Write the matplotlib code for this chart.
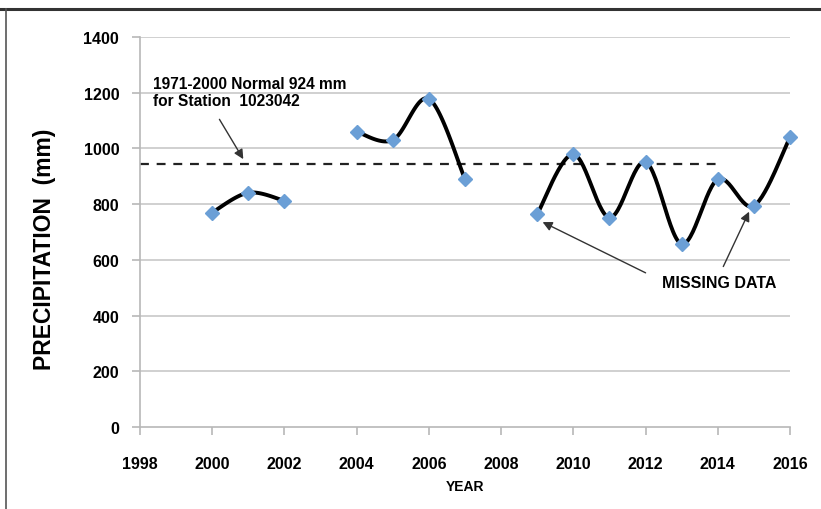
import matplotlib
matplotlib.use('Agg')
import matplotlib.pyplot as plt
import numpy as np

plt.rcParams['font.family'] = ['Liberation Sans', 'DejaVu Sans']

# data, split where years are missing
seg_years = [[2000, 2001, 2002],
             [2004, 2005, 2006, 2007],
             [2009, 2010, 2011, 2012, 2013, 2014, 2015, 2016]]
seg_precip = [[770, 841, 812],
              [1060, 1030, 1178, 890],
              [764, 979, 752, 951, 657, 889, 794, 1040]]

normal_value = 943
normal_start, normal_end = 1998, 2014.1

x_ticks = list(range(1998, 2017, 2))
y_ticks = list(range(0, 1401, 200))

marker_color = '#6b9fd6'


def smooth(xs, ys, n=30):
    # excel-like smoothed line: cubic bezier through the points
    P = np.column_stack([xs, ys]).astype(float)
    out = []
    for i in range(len(P) - 1):
        p0 = P[i - 1] if i > 0 else P[i]
        p1, p2 = P[i], P[i + 1]
        p3 = P[i + 2] if i + 2 < len(P) else P[i + 1]
        c1 = p1 + (p2 - p0) / 6.0
        c2 = p2 - (p3 - p1) / 6.0
        t = np.linspace(0, 1, n)[:, None]
        pts = ((1 - t) ** 3) * p1 + 3 * ((1 - t) ** 2) * t * c1 + 3 * (1 - t) * t ** 2 * c2 + t ** 3 * p2
        out.append(pts if i == 0 else pts[1:])
    pts = np.vstack(out)
    return pts[:, 0], pts[:, 1]


fig = plt.figure(figsize=(8.21, 5.10), dpi=100)
W, H = 821, 510
ax = fig.add_axes([140 / W, 1 - 428 / H, 650 / W, 390 / H])

ax.set_xlim(1998, 2016)
ax.set_ylim(0, 1400)

for y in y_ticks[1:]:
    ax.axhline(y, color='#c8c8c8', lw=1.2, zorder=1)

ax.plot([normal_start, normal_end], [normal_value, normal_value],
        color='#222222', lw=1.6, ls=(0, (4, 3.5)), zorder=2)

for xs, ys in zip(seg_years, seg_precip):
    sx, sy = smooth(xs, ys)
    ax.plot(sx, sy, color='black', lw=2.8, zorder=3, solid_capstyle='round')
    ax.plot(xs, ys, ls='none', marker='D', ms=7.5, color=marker_color,
            markeredgecolor=marker_color, zorder=4, clip_on=False)

for s in ['top', 'right']:
    ax.spines[s].set_visible(False)
for s in ['left', 'bottom']:
    ax.spines[s].set_color('#b8b8b8')
    ax.spines[s].set_linewidth(1.2)

ax.set_xticks(x_ticks)
ax.set_yticks(y_ticks)
ax.tick_params(axis='both', colors='#b8b8b8', length=6, width=1.2,
               labelcolor='black', labelsize=11.5)
ax.tick_params(axis='x', pad=15)
ax.tick_params(axis='y', pad=9)
for lab in ax.get_xticklabels() + ax.get_yticklabels():
    lab.set_fontweight('bold')

ax.set_xlabel('YEAR', fontsize=10, fontweight='bold', labelpad=6)
ax.set_ylabel('PRECIPITATION  (mm)', fontsize=16.5, fontweight='bold')
ax.yaxis.set_label_coords(-84 / 650, 0.459)

ax.text(1998.36, 1145, '1971-2000 Normal 924 mm\nfor Station  1023042',
        fontsize=11.2, fontweight='bold', va='bottom', ha='left', linespacing=1.15)
ax.annotate('', xy=(2000.9, normal_value + 10), xytext=(2000.16, 1113),
            arrowprops=dict(arrowstyle='-|>', color='#333333', lw=1, mutation_scale=14))

ax.text(2012.46, 520, 'MISSING DATA', fontsize=11.5, fontweight='bold',
        ha='left', va='center')
ax.annotate('', xy=(2009.08, 740), xytext=(2012.07, 549),
            arrowprops=dict(arrowstyle='-|>', color='#333333', lw=1, mutation_scale=14))
ax.annotate('', xy=(2014.9, 782), xytext=(2014.12, 567),
            arrowprops=dict(arrowstyle='-|>', color='#333333', lw=1, mutation_scale=14))

# outer frame of the screenshot
fig.add_artist(plt.Line2D([0, 1], [1 - 10 / H, 1 - 10 / H], color='#333333', lw=2.2,
                          transform=fig.transFigure))
fig.add_artist(plt.Line2D([6 / W, 6 / W], [0, 1 - 10 / H], color='#555555', lw=1.2,
                          transform=fig.transFigure))

fig.savefig('out.png', dpi=100)
